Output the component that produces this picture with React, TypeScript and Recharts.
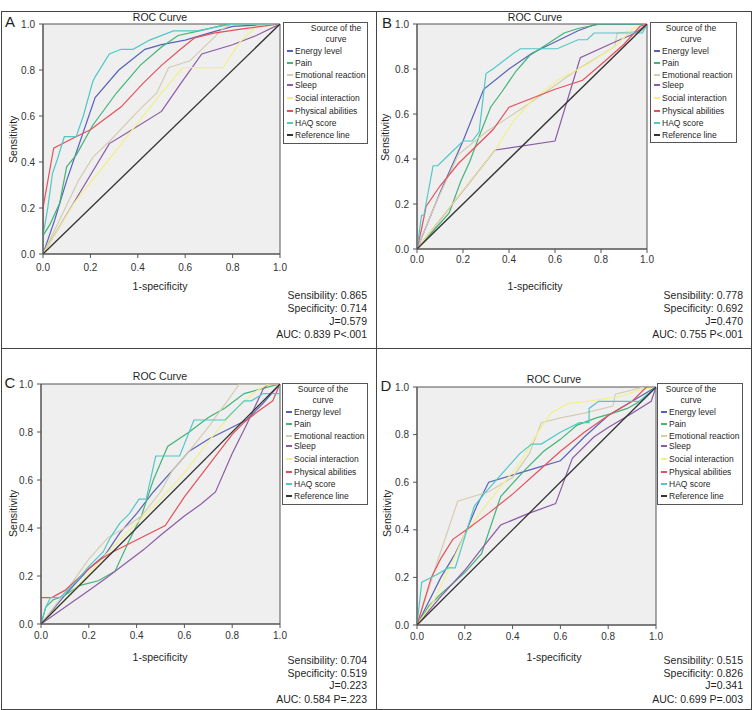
import React from "react";
import { LineChart, Line, XAxis, YAxis, CartesianGrid } from "recharts";

type Pt = [number, number];

// Curve sources, in legend order
const seriesNames = [
  "Energy level",
  "Pain",
  "Emotional reaction",
  "Sleep",
  "Social interaction",
  "Physical abilities",
  "HAQ score",
  "Reference line",
];
const seriesColors = [
  "#5a62b8",
  "#3fb576",
  "#d5cdb0",
  "#8c5aa6",
  "#f2ef8c",
  "#e6505c",
  "#4fc8c6",
  "#333333",
];

const axisTicks = [0, 0.2, 0.4, 0.6, 0.8, 1];
const referencePts: Pt[] = [[0, 0], [1, 1]];

// Panel A curves (1-specificity, sensitivity)
const energyA: Pt[] = [[0, 0], [0.05, 0.15], [0.1, 0.32], [0.16, 0.5], [0.22, 0.68], [0.32, 0.8], [0.43, 0.89], [0.5, 0.91], [0.6, 0.93], [0.7, 0.96], [0.8, 0.99], [1, 1]];
const painA: Pt[] = [[0, 0], [0, 0.08], [0.03, 0.13], [0.07, 0.22], [0.1, 0.38], [0.14, 0.43], [0.21, 0.56], [0.31, 0.7], [0.41, 0.82], [0.5, 0.9], [0.57, 0.95], [0.66, 0.97], [0.78, 1], [1, 1]];
const emotionalA: Pt[] = [[0, 0], [0.08, 0.17], [0.15, 0.32], [0.21, 0.42], [0.29, 0.5], [0.4, 0.62], [0.48, 0.7], [0.53, 0.81], [0.62, 0.84], [0.7, 0.92], [0.76, 0.98], [0.8, 1], [1, 1]];
const sleepA: Pt[] = [[0, 0], [0.14, 0.24], [0.28, 0.48], [0.36, 0.53], [0.5, 0.62], [0.58, 0.74], [0.67, 0.87], [0.8, 0.91], [0.9, 0.95], [1, 1]];
const socialA: Pt[] = [[0, 0], [0.13, 0.22], [0.27, 0.4], [0.4, 0.57], [0.5, 0.7], [0.59, 0.81], [0.76, 0.81], [0.83, 0.92], [0.9, 0.99], [1, 1]];
const physicalA: Pt[] = [[0, 0], [0, 0.2], [0.045, 0.46], [0.12, 0.5], [0.2, 0.54], [0.33, 0.64], [0.42, 0.74], [0.5, 0.82], [0.58, 0.89], [0.64, 0.94], [0.72, 0.96], [0.85, 0.98], [1, 1]];
const haqA: Pt[] = [[0, 0], [0, 0.08], [0.02, 0.2], [0.04, 0.35], [0.06, 0.41], [0.09, 0.51], [0.14, 0.51], [0.17, 0.6], [0.21, 0.75], [0.22, 0.77], [0.28, 0.87], [0.33, 0.89], [0.38, 0.89], [0.45, 0.93], [0.55, 0.97], [0.65, 0.97], [0.8, 1], [1, 1]];

// Panel B curves
const energyB: Pt[] = [[0, 0], [0.1, 0.25], [0.2, 0.48], [0.29, 0.71], [0.4, 0.8], [0.5, 0.87], [0.6, 0.92], [0.7, 0.97], [0.78, 1], [1, 1]];
const painB: Pt[] = [[0, 0], [0.07, 0.08], [0.14, 0.16], [0.19, 0.3], [0.23, 0.39], [0.27, 0.5], [0.32, 0.63], [0.37, 0.7], [0.43, 0.79], [0.49, 0.86], [0.55, 0.9], [0.64, 0.96], [0.7, 0.98], [0.8, 1], [1, 1]];
const emotionalB: Pt[] = [[0, 0], [0.08, 0.2], [0.18, 0.42], [0.3, 0.52], [0.42, 0.6], [0.55, 0.69], [0.7, 0.8], [0.86, 0.9], [0.87, 0.96], [0.98, 0.97], [1, 1]];
const sleepB: Pt[] = [[0, 0], [0.34, 0.44], [0.6, 0.48], [0.71, 0.85], [0.86, 0.92], [0.95, 0.96], [1, 1]];
const socialB: Pt[] = [[0, 0], [0.1, 0.13], [0.2, 0.26], [0.34, 0.44], [0.42, 0.57], [0.5, 0.66], [0.61, 0.75], [0.74, 0.82], [0.86, 0.9], [0.94, 0.98], [1, 1]];
const physicalB: Pt[] = [[0, 0], [0.02, 0.09], [0.04, 0.19], [0.1, 0.28], [0.18, 0.38], [0.26, 0.46], [0.33, 0.53], [0.4, 0.63], [0.6, 0.71], [0.72, 0.75], [0.8, 0.82], [0.9, 0.91], [0.97, 0.99], [1, 1]];
const haqB: Pt[] = [[0, 0], [0.02, 0.15], [0.03, 0.15], [0.07, 0.37], [0.09, 0.37], [0.13, 0.41], [0.2, 0.48], [0.24, 0.48], [0.27, 0.52], [0.3, 0.78], [0.33, 0.8], [0.42, 0.87], [0.45, 0.89], [0.61, 0.89], [0.7, 0.93], [0.74, 0.93], [0.77, 0.96], [0.98, 0.96], [1, 1]];

// Panel C curves
const energyC: Pt[] = [[0, 0], [0.1, 0.12], [0.2, 0.23], [0.27, 0.29], [0.33, 0.38], [0.4, 0.46], [0.47, 0.55], [0.55, 0.64], [0.62, 0.72], [0.7, 0.77], [0.8, 0.82], [0.86, 0.85], [0.93, 0.92], [1, 1]];
const painC: Pt[] = [[0, 0], [0.02, 0.07], [0.05, 0.1], [0.1, 0.12], [0.16, 0.16], [0.24, 0.18], [0.31, 0.22], [0.37, 0.35], [0.42, 0.45], [0.47, 0.6], [0.53, 0.74], [0.62, 0.8], [0.7, 0.86], [0.77, 0.9], [0.85, 0.96], [0.96, 0.99], [1, 1]];
const emotionalC: Pt[] = [[0, 0], [0.1, 0.13], [0.2, 0.27], [0.28, 0.36], [0.35, 0.4], [0.42, 0.45], [0.5, 0.55], [0.55, 0.64], [0.62, 0.72], [0.7, 0.82], [0.78, 0.93], [0.83, 1], [1, 1]];
const sleepC: Pt[] = [[0, 0], [0.1, 0.07], [0.2, 0.14], [0.27, 0.19], [0.35, 0.25], [0.43, 0.31], [0.5, 0.37], [0.6, 0.45], [0.67, 0.5], [0.73, 0.55], [0.8, 0.71], [0.86, 0.83], [0.93, 0.98], [0.95, 1], [1, 1]];
const socialC: Pt[] = [[0, 0], [0.1, 0.1], [0.2, 0.21], [0.3, 0.32], [0.4, 0.42], [0.5, 0.52], [0.6, 0.63], [0.67, 0.72], [0.74, 0.81], [0.82, 0.9], [0.9, 0.97], [0.95, 1], [1, 1]];
const physicalC: Pt[] = [[0, 0], [0, 0.11], [0.045, 0.11], [0.1, 0.14], [0.2, 0.23], [0.25, 0.27], [0.3, 0.3], [0.4, 0.35], [0.52, 0.41], [0.6, 0.53], [0.7, 0.66], [0.8, 0.79], [0.85, 0.84], [0.9, 0.88], [0.97, 0.93], [1, 1]];
const haqC: Pt[] = [[0, 0], [0.02, 0.07], [0.04, 0.11], [0.08, 0.11], [0.15, 0.18], [0.2, 0.24], [0.26, 0.3], [0.29, 0.36], [0.33, 0.42], [0.37, 0.46], [0.41, 0.52], [0.44, 0.52], [0.48, 0.7], [0.58, 0.7], [0.64, 0.85], [0.77, 0.85], [0.85, 0.93], [0.88, 0.93], [0.93, 0.96], [1, 0.96], [1, 1]];

// Panel D curves
const energyD: Pt[] = [[0, 0], [0.05, 0.1], [0.1, 0.2], [0.16, 0.3], [0.2, 0.38], [0.25, 0.5], [0.3, 0.6], [0.4, 0.63], [0.5, 0.66], [0.6, 0.69], [0.7, 0.79], [0.8, 0.88], [0.9, 0.94], [1, 1]];
const painD: Pt[] = [[0, 0], [0.05, 0.08], [0.1, 0.13], [0.2, 0.22], [0.27, 0.3], [0.35, 0.54], [0.45, 0.65], [0.53, 0.73], [0.6, 0.78], [0.67, 0.84], [0.75, 0.87], [0.82, 0.89], [0.88, 0.91], [0.95, 0.95], [1, 1]];
const emotionalD: Pt[] = [[0, 0], [0.08, 0.25], [0.17, 0.52], [0.3, 0.56], [0.4, 0.62], [0.47, 0.72], [0.52, 0.85], [0.6, 0.87], [0.7, 0.89], [0.82, 0.92], [0.83, 0.97], [0.95, 1], [1, 1]];
const sleepD: Pt[] = [[0, 0], [0.1, 0.12], [0.2, 0.23], [0.27, 0.32], [0.35, 0.42], [0.47, 0.47], [0.58, 0.51], [0.65, 0.7], [0.74, 0.79], [0.8, 0.83], [0.9, 0.89], [0.98, 0.94], [1, 1]];
const socialD: Pt[] = [[0, 0], [0.07, 0.1], [0.14, 0.25], [0.2, 0.38], [0.27, 0.48], [0.35, 0.58], [0.43, 0.68], [0.5, 0.8], [0.56, 0.89], [0.63, 0.93], [0.71, 0.94], [0.85, 0.96], [0.94, 0.99], [1, 1]];
const physicalD: Pt[] = [[0, 0], [0.03, 0.1], [0.06, 0.2], [0.1, 0.28], [0.15, 0.36], [0.22, 0.41], [0.3, 0.47], [0.4, 0.55], [0.5, 0.64], [0.6, 0.73], [0.7, 0.81], [0.8, 0.88], [0.9, 0.94], [0.96, 1], [1, 1]];
const haqD: Pt[] = [[0, 0], [0.02, 0.18], [0.08, 0.21], [0.13, 0.24], [0.16, 0.24], [0.24, 0.5], [0.28, 0.55], [0.35, 0.63], [0.43, 0.72], [0.48, 0.76], [0.52, 0.76], [0.6, 0.81], [0.68, 0.85], [0.72, 0.85], [0.72, 0.91], [0.76, 0.94], [0.93, 0.94], [1, 1]];

// Summary statistics per panel
const panelLetters = ["A", "B", "C", "D"];
const sensibility = ["0.865", "0.778", "0.704", "0.515"];
const specificity = ["0.714", "0.692", "0.519", "0.826"];
const youdenJ = ["0.579", "0.470", "0.223", "0.341"];
const aucValues = ["0.839", "0.755", "0.584", "0.699"];
const pValues = ["P<.001", "P<.001", "P=.223", "P=.003"];

const panelSeries: Pt[][][] = [
  [energyA, painA, emotionalA, sleepA, socialA, physicalA, haqA, referencePts],
  [energyB, painB, emotionalB, sleepB, socialB, physicalB, haqB, referencePts],
  [energyC, painC, emotionalC, sleepC, socialC, physicalC, haqC, referencePts],
  [energyD, painD, emotionalD, sleepD, socialD, physicalD, haqD, referencePts],
];

type Layout = {
  plot: { l: number; t: number; r: number; b: number };
  letter: { x: number; y: number };
  titleX: number;
  titleY: number;
  xLabelY: number;
  yLabelX: number;
  yLabelY: number;
  xTickGap: number;
  legend: { x: number; y: number; w: number; h: number; titleCx: number };
  statsRight: number;
  statsY: number[];
};

const layouts: Layout[] = [
  {
    plot: { l: 43, t: 24, r: 280, b: 254 },
    letter: { x: 5, y: 22 },
    titleX: 160, titleY: 17, xLabelY: 286, yLabelX: 13, yLabelY: 139, xTickGap: 5.5,
    legend: { x: 283, y: 22, w: 85, h: 122, titleCx: 336 },
    statsRight: 367, statsY: [295, 308, 321, 334],
  },
  {
    plot: { l: 417, t: 24, r: 647, b: 249 },
    letter: { x: 382, y: 23 },
    titleX: 535, titleY: 17, xLabelY: 286, yLabelX: 385, yLabelY: 137, xTickGap: 2.5,
    legend: { x: 650, y: 22, w: 87, h: 121, titleCx: 691 },
    statsRight: 743, statsY: [295, 308, 321, 334],
  },
  {
    plot: { l: 41, t: 384, r: 280, b: 624 },
    letter: { x: 5, y: 383 },
    titleX: 160, titleY: 376, xLabelY: 657, yLabelX: 13, yLabelY: 513, xTickGap: 3.5,
    legend: { x: 282, y: 383, w: 86, h: 122, titleCx: 323 },
    statsRight: 367, statsY: [660, 673, 685, 699],
  },
  {
    plot: { l: 417, t: 387, r: 656, b: 625 },
    letter: { x: 381, y: 386 },
    titleX: 554, titleY: 379, xLabelY: 657, yLabelX: 387, yLabelY: 513, xTickGap: 3.5,
    legend: { x: 657, y: 383, w: 86, h: 122, titleCx: 691 },
    statsRight: 743, statsY: [660, 673, 685, 699],
  },
];

const legendRowOffsets = [29, 41, 53, 63, 76, 89, 101, 113];
const FONT = '"Liberation Sans", Arial, Helvetica, sans-serif';
const PAGE_W = 754;

const fmt = (v: number) => v.toFixed(1);

function Txt(props: {
  x: number;
  y: number;
  size: number;
  anchor?: "start" | "middle" | "end";
  color?: string;
  children: React.ReactNode;
}) {
  const { x, y, size, anchor = "middle", color = "#1f1f1f", children } = props;
  const base: React.CSSProperties = {
    position: "absolute",
    top: y - size * 0.6,
    height: size * 1.2,
    lineHeight: `${size * 1.2}px`,
    fontSize: size,
    whiteSpace: "nowrap",
    color,
  };
  const pos: React.CSSProperties =
    anchor === "middle"
      ? { left: x - 150, width: 300, textAlign: "center" }
      : anchor === "end"
      ? { right: PAGE_W - x, textAlign: "right" }
      : { left: x };
  return <div style={{ ...base, ...pos }}>{children}</div>;
}

function Panel({ idx }: { idx: number }) {
  const L = layouts[idx];
  const { plot } = L;
  const pw = plot.r - plot.l;
  const ph = plot.b - plot.t;
  const ML = 40;
  const MT = 10;
  const MR = 10;
  const XH = 26;
  const cw = pw + ML + MR;
  const ch = ph + MT + XH;
  const curves = panelSeries[idx];

  return (
    <>
      <div style={{ position: "absolute", left: plot.l - ML, top: plot.t - MT }}>
        <LineChart width={cw} height={ch} margin={{ top: MT, right: MR, bottom: 0, left: 0 }}>
          <CartesianGrid
            horizontalPoints={[MT, MT + ph]}
            verticalPoints={[ML, ML + pw]}
            stroke="#555555"
            strokeWidth={1}
            fill="#efefef"
            fillOpacity={1}
          />
          <XAxis
            type="number"
            dataKey="x"
            domain={[0, 1]}
            ticks={axisTicks}
            interval={0}
            tickFormatter={fmt}
            allowDataOverflow
            height={XH}
            tickSize={4}
            tickMargin={L.xTickGap}
            stroke="#555555"
            tick={{ fill: "#333333", fontSize: 10, fontFamily: FONT }}
          />
          <YAxis
            type="number"
            domain={[0, 1]}
            ticks={axisTicks}
            interval={0}
            tickFormatter={fmt}
            allowDataOverflow
            width={ML}
            tickSize={4}
            tickMargin={4}
            stroke="#555555"
            tick={{ fill: "#333333", fontSize: 10, fontFamily: FONT }}
          />
          {curves.map((pts, i) => (
            <Line
              key={seriesNames[i]}
              name={seriesNames[i]}
              data={pts.map(([x, y]) => ({ x, y }))}
              dataKey="y"
              type="linear"
              stroke={seriesColors[i]}
              strokeWidth={i === 7 ? 1.3 : 1.2}
              dot={false}
              activeDot={false}
              isAnimationActive={false}
            />
          ))}
        </LineChart>
      </div>

      <Txt x={L.letter.x + 5} y={L.letter.y} size={15}>{panelLetters[idx]}</Txt>
      <Txt x={L.titleX} y={L.titleY} size={10.5}>ROC Curve</Txt>
      <Txt x={L.titleX} y={L.xLabelY} size={10.5}>1-specificity</Txt>
      <div
        style={{
          position: "absolute",
          left: L.yLabelX - 100,
          top: L.yLabelY - 6.3,
          width: 200,
          height: 12.6,
          lineHeight: "12.6px",
          fontSize: 10.5,
          textAlign: "center",
          color: "#1f1f1f",
          transform: "rotate(-90deg)",
          transformOrigin: "center",
        }}
      >
        Sensitivity
      </div>

      {/* legend box */}
      <div
        style={{
          position: "absolute",
          left: L.legend.x,
          top: L.legend.y,
          width: L.legend.w,
          height: L.legend.h,
          border: "1px solid #555555",
          boxSizing: "border-box",
          background: "#ffffff",
        }}
      />
      <Txt x={L.legend.titleCx} y={L.legend.y + 6} size={8.5}>Source of the</Txt>
      <Txt x={L.legend.titleCx} y={L.legend.y + 17} size={8.5}>curve</Txt>
      {seriesNames.map((name, i) => (
        <React.Fragment key={name}>
          <div
            style={{
              position: "absolute",
              left: L.legend.x + 4,
              top: L.legend.y + legendRowOffsets[i] - 0.75,
              width: 6,
              height: 1.5,
              background: seriesColors[i],
            }}
          />
          <Txt x={L.legend.x + 12} y={L.legend.y + legendRowOffsets[i]} size={8.5} anchor="start">
            {name}
          </Txt>
        </React.Fragment>
      ))}

      <Txt x={L.statsRight} y={L.statsY[0]} size={10.5} anchor="end">Sensibility: {sensibility[idx]}</Txt>
      <Txt x={L.statsRight} y={L.statsY[1]} size={10.5} anchor="end">Specificity: {specificity[idx]}</Txt>
      <Txt x={L.statsRight} y={L.statsY[2]} size={10.5} anchor="end">J={youdenJ[idx]}</Txt>
      <Txt x={L.statsRight} y={L.statsY[3]} size={10.5} anchor="end">AUC: {aucValues[idx]} {pValues[idx]}</Txt>
    </>
  );
}

export default function App() {
  return (
    <div
      style={{
        position: "absolute",
        left: 0,
        top: 0,
        width: PAGE_W,
        height: 710,
        background: "#ffffff",
        fontFamily: FONT,
        overflow: "hidden",
      }}
    >
      {/* frame and dividers */}
      <div style={{ position: "absolute", left: 1, top: 11, width: 751, height: 699, border: "1px solid #444", boxSizing: "border-box" }} />
      <div style={{ position: "absolute", left: 1, top: 348, width: 751, height: 1, background: "#444" }} />
      <div style={{ position: "absolute", left: 376, top: 11, width: 1, height: 699, background: "#444" }} />
      {[0, 1, 2, 3].map((i) => (
        <Panel key={i} idx={i} />
      ))}
    </div>
  );
}
